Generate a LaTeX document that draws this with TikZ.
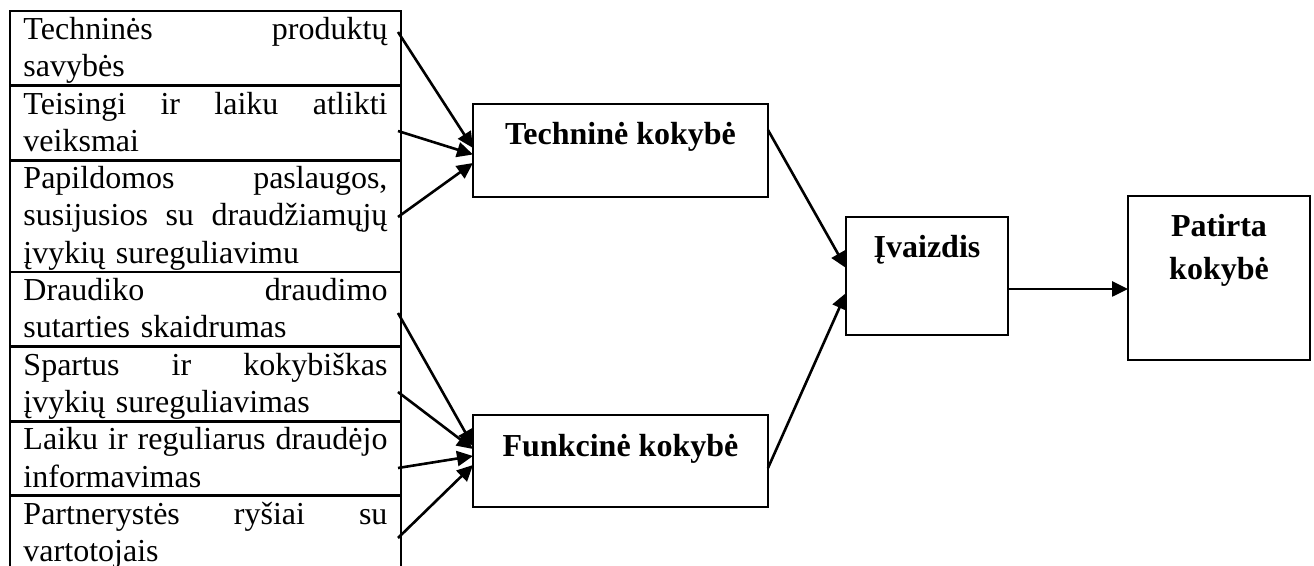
\documentclass[tikz,border=0pt]{standalone}
\usepackage{fontspec}
\setmainfont{Liberation Serif}
\usetikzlibrary{arrows.meta,calc}
\newcommand\tstr{\rule{0pt}{14.25pt}}
\newcommand\bstr{\rule[-4.4pt]{0pt}{0pt}}
\begin{document}
\begin{tikzpicture}[x=0.5pt,y=-0.5pt,
  row/.style={draw, line width=1.4pt, outer sep=0pt, inner ysep=0pt, inner xsep=6.75pt,
    text width=182pt, anchor=north west, font=\fontsize{16}{18.65}\selectfont},
  box/.style={draw, line width=1pt, outer sep=0pt, inner sep=0pt, anchor=north west,
    font=\fontsize{16}{21.5}\selectfont\bfseries},
  arr/.style={line width=1.3pt, -{Triangle[length=8pt,width=7.5pt]}}]
\useasboundingbox (0,0) rectangle (1314,566);
\clip (0,0) rectangle (1314,566);
% left table
\node[row] (r1) at (10,11) {\noindent\tstr Techninės\hfill produktų\\savybės\bstr};
\node[row] (r2) at (r1.south west) {\noindent\tstr Teisingi\hfill ir\hfill laiku\hfill atlikti\\veiksmai\bstr};
\node[row] (r3) at (r2.south west) {\noindent\tstr Papildomos\hfill paslaugos,\\susijusios\hfill su\hfill draudžiamųjų\\įvykių sureguliavimu\bstr};
\node[row] (r4) at (r3.south west) {\noindent\tstr Draudiko\hfill draudimo\\sutarties skaidrumas\bstr};
\node[row] (r5) at (r4.south west) {\noindent\tstr Spartus\hfill ir\hfill kokybiškas\\įvykių sureguliavimas\bstr};
\node[row] (r6) at (r5.south west) {\noindent\tstr Laiku\hfill ir\hfill reguliarus\hfill draudėjo\\informavimas\bstr};
\node[row] (r7) at (r6.south west) {\noindent\tstr Partnerystės\hfill ryšiai\hfill su\\vartotojais\bstr};
% boxes
\node[box, text height=20.5pt, text depth=26pt, minimum width=147.5pt] (tk) at (473,104) {Techninė kokybė};
\node[box, text height=21pt, text depth=25pt, minimum width=147.5pt] (fk) at (473,415) {Funkcinė kokybė};
\node[box, text height=20.5pt, text depth=38.5pt, minimum width=81pt] (iv) at (846,217) {Įvaizdis};
\node[box, text height=20.5pt, text depth=61.5pt, minimum width=91pt] (pk) at (1128,196) {\parbox[t]{91pt}{\centering Patirta\\kokybė}};
% arrow start points
\coordinate (s1) at (398,32);
\coordinate (s2) at (398,131);
\coordinate (s3) at (398,217);
\coordinate (s4) at (398,313);
\coordinate (s5) at (398,392);
\coordinate (s6) at (398,468);
\coordinate (s7) at (398,538);
% connectors
\draw[arr] (s1) -- ($(tk.west)+(0,-2.5)$);
\draw[arr] (s2) -- ($(tk.west)+(0,4)$);
\draw[arr] (s3) -- ($(tk.west)+(0,12.5)$);
\draw[arr] (s4) -- ($(fk.west)+(0,-15)$);
\draw[arr] (s5) -- ($(fk.west)+(0,-12)$);
\draw[arr] (s6) -- ($(fk.west)+(0,-5)$);
\draw[arr] (s7) -- ($(fk.west)+(0,4)$);
\draw[arr] ($(tk.east)+(0,-20.5)$) -- ($(iv.west)+(0,-8)$);
\draw[arr] ($(fk.east)+(0,7)$) -- ($(iv.west)+(0,17)$);
\draw[arr] ($(iv.east)+(0,13)$) -- ($(pk.west)+(0,11)$);
\end{tikzpicture}
\end{document}
